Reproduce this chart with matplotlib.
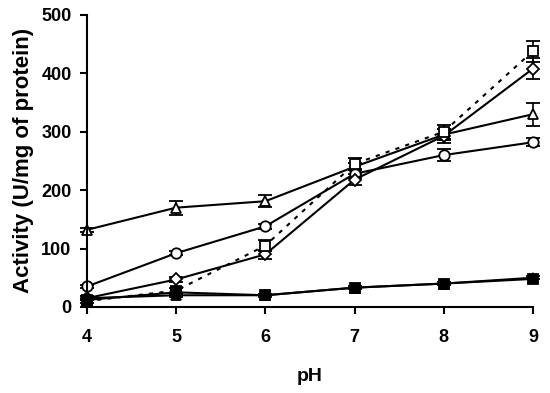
import matplotlib.pyplot as plt

ph = [4, 5, 6, 7, 8, 9]

tri_open = [132, 170, 181, 240, 295, 330]
tri_open_err = [4, 12, 10, 6, 10, 20]
circ_open = [35, 92, 138, 228, 260, 282]
circ_open_err = [3, 3, 4, 8, 10, 7]
diam_open = [15, 47, 90, 218, 293, 408]
diam_open_err = [3, 4, 8, 10, 12, 18]
sq_open = [10, 28, 105, 245, 300, 438]
sq_open_err = [3, 5, 10, 10, 12, 18]
tri_fill = [15, 20, 20, 33, 40, 50]
tri_fill_err = [3, 3, 3, 3, 3, 3]
sq_fill = [12, 25, 20, 33, 40, 48]

plt.rcParams['font.family'] = ['Liberation Sans', 'DejaVu Sans']
plt.rcParams['font.weight'] = 'bold'

fig = plt.figure(figsize=(5.5, 3.93), dpi=100)
ax = fig.add_axes([0.158, 0.219, 0.811, 0.743])

kw = dict(color='black', lw=1.5, capsize=5, elinewidth=1.2, capthick=1.2, ms=7.5, mew=1.3, clip_on=False)
ax.errorbar(ph, tri_open, yerr=tri_open_err, marker='^', mfc='white', **kw)
ax.errorbar(ph, circ_open, yerr=circ_open_err, marker='o', mfc='white', **kw)
ax.errorbar(ph, diam_open, yerr=diam_open_err, marker='D', mfc='white', **{**kw, 'ms': 6.5})
ax.errorbar(ph, sq_open, yerr=sq_open_err, marker='s', mfc='white', ls=(0, (2, 3)), **kw)
ax.errorbar(ph, sq_fill, marker='s', mfc='black', **kw)
ax.errorbar(ph, tri_fill, yerr=tri_fill_err, marker='^', mfc='black', **kw)

ax.set_xlim(4, 9)
ax.set_ylim(0, 500)
ax.set_xticks(ph)
ax.set_yticks([0, 100, 200, 300, 400, 500])
ax.spines['top'].set_visible(False)
ax.spines['right'].set_visible(False)
ax.spines['left'].set_linewidth(1.5)
ax.spines['bottom'].set_linewidth(1.5)
ax.tick_params(direction='out', length=5, width=1.5, labelsize=13)
ax.tick_params(axis='x', pad=11)
ax.tick_params(axis='y', pad=6)
ax.set_xlabel('pH', fontsize=14, fontweight='bold', labelpad=16)
ax.set_ylabel('Activity (U/mg of protein)', fontsize=16, fontweight='bold', labelpad=5)

fig.savefig('out.png', dpi=100)
